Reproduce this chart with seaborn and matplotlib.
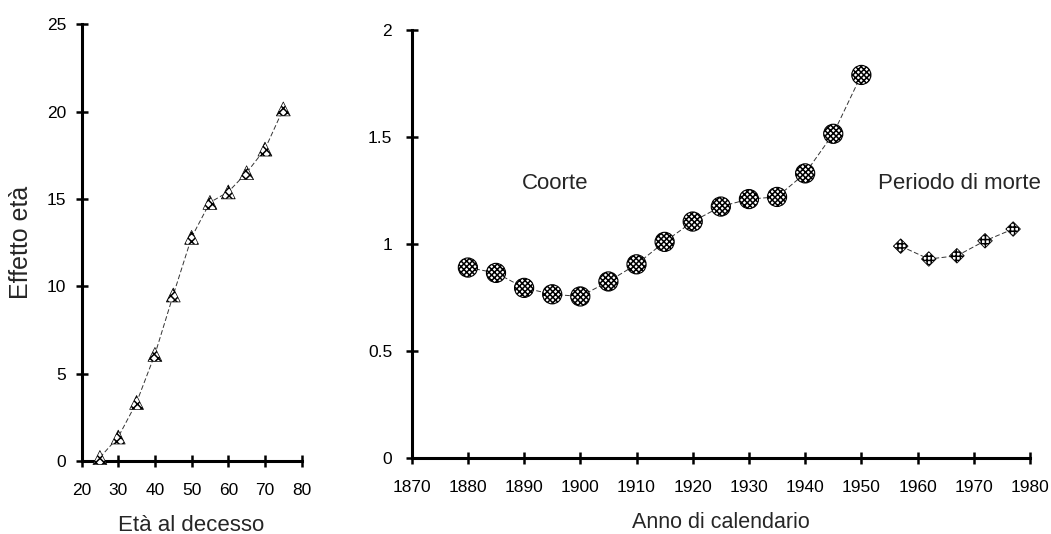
import matplotlib
matplotlib.use("Agg")
import matplotlib.pyplot as plt
import seaborn as sns
import pandas as pd

# ---- data ----
age = [25, 30, 35, 40, 45, 50, 55, 60, 65, 70, 75]
age_effect = [0.2, 1.37, 3.35, 6.1, 9.5, 12.8, 14.8, 15.4, 16.5, 17.85, 20.15]

cohort_year = [1880, 1885, 1890, 1895, 1900, 1905, 1910, 1915, 1920, 1925,
               1930, 1935, 1940, 1945, 1950]
cohort_effect = [0.89, 0.865, 0.795, 0.765, 0.755, 0.825, 0.905, 1.01, 1.105,
                 1.175, 1.21, 1.22, 1.33, 1.515, 1.79]

period_year = [1957, 1962, 1967, 1972, 1977]
period_effect = [0.99, 0.93, 0.945, 1.015, 1.07]

left_xticks = [20, 30, 40, 50, 60, 70, 80]
left_yticks = [0, 5, 10, 15, 20, 25]
right_xticks = [1870, 1880, 1890, 1900, 1910, 1920, 1930, 1940, 1950, 1960, 1970, 1980]
right_yticks = [0, 0.5, 1, 1.5, 2]
right_ytick_labels = ["0", "0.5", "1", "1.5", "2"]

sns.set_style("white")
plt.rcParams["font.family"] = ["Liberation Sans", "DejaVu Sans"]
plt.rcParams["hatch.linewidth"] = 1.1

fig = plt.figure(figsize=(10.51, 5.34), dpi=100)
ax1 = fig.add_axes([0.0776, 0.1367, 0.2094, 0.818])
ax2 = fig.add_axes([0.3917, 0.1423, 0.5883, 0.8015])

df_age = pd.DataFrame({"x": age, "y": age_effect})
df_coh = pd.DataFrame({"x": cohort_year, "y": cohort_effect})
df_per = pd.DataFrame({"x": period_year, "y": period_effect})

line_kw = dict(color="#333333", linewidth=0.7, linestyle=(0, (5, 2.5)))


def hatched(ax, df, marker, size, hatch, lw=0.6):
    sns.scatterplot(data=df, x="x", y="y", ax=ax, marker=marker, s=size,
                    facecolor="white", edgecolor="black", linewidth=lw,
                    zorder=5, clip_on=False)
    coll = ax.collections[-1]
    coll.set_hatch(hatch)
    coll.set_facecolor("white")
    coll.set_edgecolor("black")


sns.lineplot(data=df_age, x="x", y="y", ax=ax1, **line_kw)
hatched(ax1, df_age, "^", 100, "xxxx", lw=0.5)

sns.lineplot(data=df_coh, x="x", y="y", ax=ax2, **line_kw)
hatched(ax2, df_coh, "o", 190, "xxxxxx", lw=0.8)
sns.lineplot(data=df_per, x="x", y="y", ax=ax2, **line_kw)
hatched(ax2, df_per, "D", 55, "++++", lw=0.6)

for ax in (ax1, ax2):
    for s in ("top", "right"):
        ax.spines[s].set_visible(False)
    for s in ("left", "bottom"):
        ax.spines[s].set_linewidth(2.2)
        ax.spines[s].set_color("black")
    ax.tick_params(direction="inout", length=8, width=1.8, colors="black",
                   labelsize=12.5, bottom=True, left=True)
    ax.grid(False)
    ax.set_facecolor("white")

ax1.set_xlim(20, 80)
ax1.set_ylim(0, 25)
ax1.set_xticks(left_xticks)
ax1.set_yticks(left_yticks)
ax1.tick_params(axis="y", pad=7)
ax1.tick_params(axis="x", pad=12)
ax1.set_xlabel("Età al decesso", fontsize=16, labelpad=12)
ax1.set_ylabel("Effetto età", fontsize=18, labelpad=10)

ax2.set_xlim(1870, 1980)
ax2.set_ylim(0, 2)
ax2.set_xticks(right_xticks)
ax2.set_yticks(right_yticks)
ax2.set_yticklabels(right_ytick_labels)
ax2.tick_params(axis="y", pad=10)
ax2.tick_params(axis="x", pad=12)
ax2.set_xlabel("Anno di calendario", fontsize=15.5, labelpad=12)
ax2.set_ylabel("")

ax2.text(1895.5, 1.285, "Coorte", fontsize=16, ha="center", va="center")
ax2.text(1967.5, 1.285, "Periodo di morte", fontsize=16, ha="center", va="center")

fig.savefig("out.png", dpi=100, facecolor="white")
